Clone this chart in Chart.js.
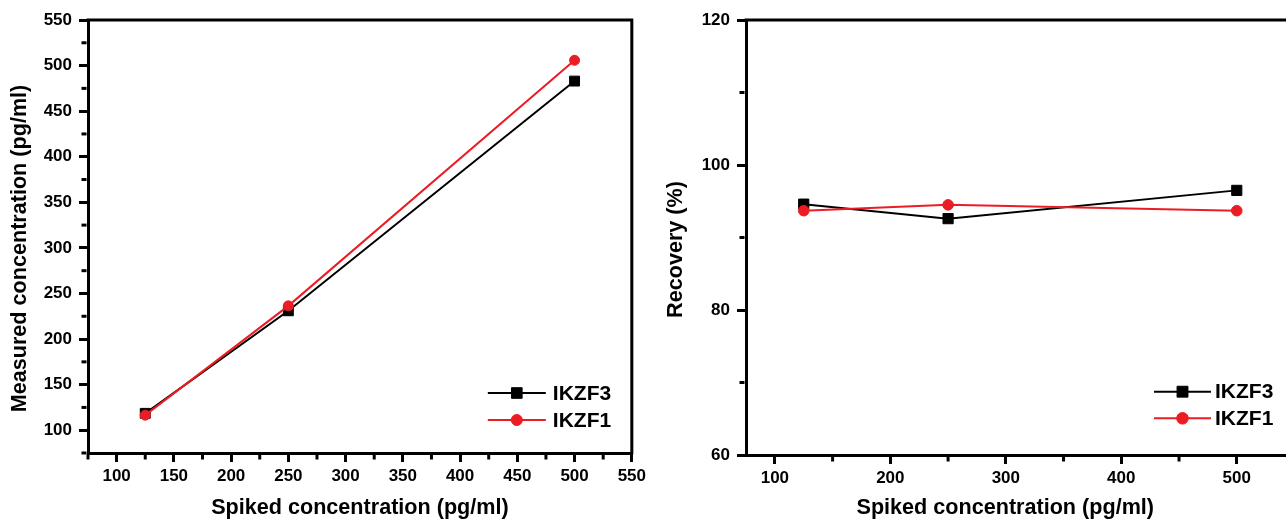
<!DOCTYPE html>
<html>
<head>
<meta charset="utf-8">
<script src="https://cdn.jsdelivr.net/npm/chart.js@4.4.1/dist/chart.umd.min.js"></script>
<style>
  html, body { margin: 0; padding: 0; background: #fff; overflow: hidden; width: 1286px; height: 521px; }
  .panel { position: absolute; top: 0; height: 521px; }
  #panelLeft { left: 0; width: 650px; }
  #panelRight { left: 650px; width: 656px; }
</style>
</head>
<body>
<div class="panel" id="panelLeft"><canvas id="linearity" width="650" height="521"></canvas></div>
<div class="panel" id="panelRight"><canvas id="recovery" width="656" height="521"></canvas></div>
<script>
// Spiked concentrations (pg/ml)
const spiked = [125, 250, 500];

// Measured concentrations (pg/ml)
const measuredIKZF3 = [118.5, 231, 483];
const measuredIKZF1 = [116.5, 236.4, 505.8];

// Recovery (%)
const recoveryIKZF3 = [94.6, 92.6, 96.5];
const recoveryIKZF1 = [93.7, 94.5, 93.7];

// Axis ticks
const measuredTicks = [100, 150, 200, 250, 300, 350, 400, 450, 500, 550];
const measuredMinor = [75, 125, 175, 225, 275, 325, 375, 425, 475, 525];
const spikedTicksLeft = [100, 150, 200, 250, 300, 350, 400, 450, 500, 550];
const spikedMinorLeft = [75, 125, 175, 225, 275, 325, 375, 425, 475, 525];
const recoveryTicks = [60, 80, 100, 120];
const recoveryMinor = [70, 90, 110];
const spikedTicksRight = [100, 200, 300, 400, 500];
const spikedMinorRight = [150, 250, 350, 450];

const seriesNames = ['IKZF3', 'IKZF1'];
const BLACK = '#000000';
const RED = '#EC1C24';

Chart.defaults.font.family = "'Liberation Sans', Arial, Helvetica, sans-serif";
Chart.defaults.font.weight = 'bold';
Chart.defaults.color = '#000';
Chart.defaults.animation = false;

const toPoints = (xs, ys) => xs.map((x, i) => ({ x: x, y: ys[i] }));

// Short minor ticks plus the closing top/right frame lines
const minorTicksAndFrame = {
  id: 'minorTicksAndFrame',
  afterDraw(chart, args, opts) {
    const { ctx, chartArea } = chart;
    const xs = chart.scales.x, ys = chart.scales.y;
    const half = 1.5;
    ctx.save();
    ctx.strokeStyle = '#000';
    ctx.lineWidth = 3;
    ctx.lineCap = 'butt';
    (opts.x || []).forEach(v => {
      const p = xs.getPixelForValue(v);
      ctx.beginPath();
      ctx.moveTo(p, chartArea.bottom + half);
      ctx.lineTo(p, chartArea.bottom + half + opts.length);
      ctx.stroke();
    });
    (opts.y || []).forEach(v => {
      const p = ys.getPixelForValue(v);
      ctx.beginPath();
      ctx.moveTo(chartArea.left - half, p);
      ctx.lineTo(chartArea.left - half - opts.length, p);
      ctx.stroke();
    });
    // frame: top and right edges
    ctx.beginPath();
    ctx.moveTo(chartArea.left - half, chartArea.top);
    ctx.lineTo(chartArea.right + half, chartArea.top);
    ctx.moveTo(chartArea.right, chartArea.top - half);
    ctx.lineTo(chartArea.right, chartArea.bottom + half);
    ctx.stroke();
    ctx.restore();
  }
};

// Legend drawn inside the plot area, lower right
const insideLegend = {
  id: 'insideLegend',
  afterDraw(chart, args, opts) {
    const { ctx, chartArea } = chart;
    const x0 = chartArea.right - opts.fromRight;
    const rows = chart.data.datasets.slice().sort((a, b) => a.legendIndex - b.legendIndex);
    rows.forEach((ds, i) => {
      const y = chartArea.bottom - opts.rows[i];
      ctx.save();
      ctx.strokeStyle = ds.borderColor;
      ctx.lineWidth = ds.borderWidth;
      ctx.beginPath();
      ctx.moveTo(x0, y);
      ctx.lineTo(x0 + opts.lineLength, y);
      ctx.stroke();
      ctx.fillStyle = ds.pointBackgroundColor;
      ctx.strokeStyle = ds.pointBorderColor;
      ctx.lineWidth = 1;
      Chart.helpers.drawPoint(ctx, { pointStyle: ds.pointStyle, radius: ds.pointRadius + 0.5, rotation: 0, borderWidth: 1 }, x0 + opts.lineLength / 2, y);
      ctx.fillStyle = '#000';
      ctx.font = "bold 21px 'Liberation Sans', Arial, Helvetica, sans-serif";
      ctx.textAlign = 'left';
      ctx.textBaseline = 'middle';
      ctx.fillText(ds.label, x0 + opts.lineLength + opts.textGap, y + 1);
      ctx.restore();
    });
  }
};

function makeDataset(name, xs, ys, color, style, radius, legendIndex, order) {
  return {
    label: name,
    data: toPoints(xs, ys),
    borderColor: color,
    backgroundColor: color,
    pointBackgroundColor: color,
    pointBorderColor: color,
    borderWidth: 2,
    pointStyle: style,
    pointRadius: radius,
    pointBorderWidth: 1,
    tension: 0,
    legendIndex: legendIndex,
    order: order
  };
}

function xScale(ticksArr, height, titleText) {
  return {
    type: 'linear',
    min: 75,
    max: 550,
    afterBuildTicks: s => { s.ticks = ticksArr.map(v => ({ value: v })); },
    afterFit: s => { s.height = height; },
    grid: { display: true, drawOnChartArea: false, drawTicks: true, tickLength: 9, tickWidth: 3, tickColor: '#000', color: '#000', lineWidth: 3 },
    border: { display: true, color: '#000', width: 3 },
    ticks: { color: '#000', font: { size: 17, weight: 'bold' }, padding: 4, maxRotation: 0, autoSkip: false },
    title: { display: true, text: titleText, color: '#000', font: { size: 21.6, weight: 'bold' }, padding: { top: 0, bottom: 0 } }
  };
}

function yScale(min, max, ticksArr, width, titleText, titlePad) {
  return {
    type: 'linear',
    min: min,
    max: max,
    afterBuildTicks: s => { s.ticks = ticksArr.map(v => ({ value: v })); },
    afterFit: s => { s.width = width; },
    grid: { display: true, drawOnChartArea: false, drawTicks: true, tickLength: 9, tickWidth: 3, tickColor: '#000', color: '#000', lineWidth: 3 },
    border: { display: true, color: '#000', width: 3 },
    ticks: { color: '#000', font: { size: 17, weight: 'bold' }, padding: 7, autoSkip: false },
    title: { display: true, text: titleText, color: '#000', font: { size: 21.6, weight: 'bold' }, padding: { top: titlePad, bottom: 0 } }
  };
}

// Measured vs spiked concentration
new Chart(document.getElementById('linearity'), {
  type: 'line',
  data: {
    datasets: [
      makeDataset(seriesNames[0], spiked, measuredIKZF3, BLACK, 'rect', 7, 0, 1),
      makeDataset(seriesNames[1], spiked, measuredIKZF1, RED, 'circle', 5, 1, 0)
    ]
  },
  options: {
    responsive: false,
    devicePixelRatio: 1,
    layout: { padding: { top: 20, right: 14, bottom: 0, left: 0 } },
    plugins: {
      legend: { display: false },
      tooltip: { enabled: false },
      minorTicksAndFrame: { x: spikedMinorLeft, y: measuredMinor, length: 5 },
      insideLegend: { fromRight: 144, lineLength: 58, textGap: 7, rows: [60, 33] }
    },
    scales: {
      x: xScale(spikedTicksLeft, 68, 'Spiked concentration (pg/ml)'),
      y: yScale(75, 550, measuredTicks, 88, 'Measured concentration (pg/ml)    ', 7.4)
    }
  },
  plugins: [minorTicksAndFrame, insideLegend]
});

// Recovery vs spiked concentration
new Chart(document.getElementById('recovery'), {
  type: 'line',
  data: {
    datasets: [
      makeDataset(seriesNames[0], spiked, recoveryIKZF3, BLACK, 'rect', 7.2, 0, 1),
      makeDataset(seriesNames[1], spiked, recoveryIKZF1, RED, 'circle', 5.3, 1, 0)
    ]
  },
  options: {
    responsive: false,
    devicePixelRatio: 1,
    layout: { padding: { top: 20, right: 11.5, bottom: 0, left: 0 } },
    plugins: {
      legend: { display: false },
      tooltip: { enabled: false },
      minorTicksAndFrame: { x: spikedMinorRight, y: recoveryMinor, length: 5 },
      insideLegend: { fromRight: 140.5, lineLength: 57, textGap: 4, rows: [63.3, 36.7] }
    },
    scales: {
      x: xScale(spikedTicksRight, 66, 'Spiked concentration (pg/ml)     '),
      y: yScale(60, 120, recoveryTicks, 96, 'Recovery (%)    ', 13.4)
    }
  },
  plugins: [minorTicksAndFrame, insideLegend]
});
</script>
</body>
</html>
